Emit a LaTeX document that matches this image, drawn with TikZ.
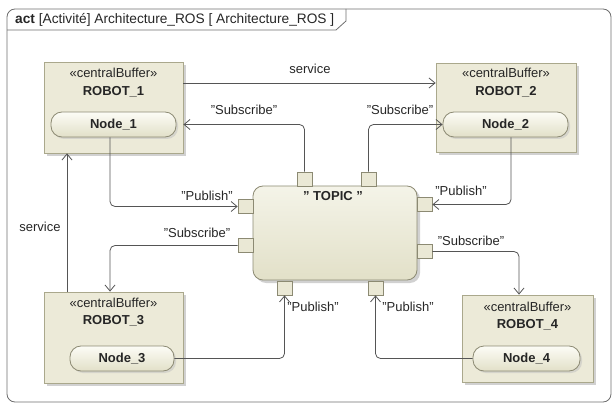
\documentclass[tikz,border=0pt]{standalone}
\usepackage{fontspec}
\setmainfont{Liberation Sans}
\usetikzlibrary{arrows.meta,shadows,calc}
\definecolor{boxfill}{RGB}{236,234,216}
\definecolor{boxline}{RGB}{170,168,140}
\definecolor{pilltop}{RGB}{252,252,246}
\definecolor{pillbot}{RGB}{226,224,200}
\definecolor{pillline}{RGB}{140,138,115}
\definecolor{connc}{RGB}{85,85,85}
\definecolor{framec}{RGB}{110,110,110}
\tikzset{
  txt/.style={font=\fontsize{13}{15}\selectfont, text=black!85},
  bold/.style={font=\fontsize{13}{15}\selectfont\bfseries},
  robotbox/.style={draw=boxline, fill=boxfill, line width=0.8pt, minimum width=139pt, minimum height=91pt, inner sep=0pt,
    drop shadow={shadow xshift=3pt, shadow yshift=-3pt, fill=black!30, opacity=0.6}},
  pillbox/.style={draw=pillline, line width=0.8pt, rounded corners=11pt, top color=pilltop, bottom color=pillbot, minimum height=25pt, inner sep=0pt,
    drop shadow={shadow xshift=2pt, shadow yshift=-2pt, fill=black!25, opacity=0.5}, txt, bold},
  topicbox/.style={draw=pillline, line width=0.8pt, rounded corners=10pt, top color=pilltop!70!pillbot, bottom color=pillbot, minimum width=164pt, minimum height=94pt, inner sep=0pt,
    drop shadow={shadow xshift=3pt, shadow yshift=-3pt, fill=black!30, opacity=0.6}},
  pinbox/.style={draw=pillline, line width=0.7pt, fill=boxfill!80!pillbot, minimum width=15pt, minimum height=14pt, inner sep=0pt},
  conn/.style={draw=connc, line width=0.8pt, rounded corners=5pt, -{Straight Barb[length=6pt,width=10pt]}},
  lbl/.style={txt, inner sep=0pt},
}
\begin{document}
\begin{tikzpicture}[x=1pt,y=-1pt]
\useasboundingbox (0,0) rectangle (613,406);
% frame
\draw[framec, line width=0.8pt, rounded corners=8pt] (7,9) rectangle (611,402);
\draw[framec, line width=0.8pt] (7,30) -- (336,30) -- (346,21) -- (346,9);
\node[txt, font=\fontsize{13.7}{15}\selectfont, anchor=west, inner sep=0pt] (title) at (15,20) {\textbf{act} [Activité] Architecture\_ROS [ Architecture\_ROS ]};

% robots
\node[robotbox] (r1) at (113.5,107.5) {};
\node[robotbox, minimum width=140pt, minimum height=89pt] (r2) at (506,107.5) {};
\node[robotbox] (r3) at (113.5,337.5) {};
\node[robotbox, minimum width=131pt, minimum height=87pt] (r4) at (527.5,338.5) {};

\node[lbl] (r1s) at (113.5,73) {«centralBuffer»};
\node[lbl, bold] (r1n) at (113.5,92) {ROBOT\_1};
\node[lbl] (r2s) at (506,73) {«centralBuffer»};
\node[lbl, bold] (r2n) at (506,92) {ROBOT\_2};
\node[lbl] (r3s) at (113.5,303) {«centralBuffer»};
\node[lbl, bold] (r3n) at (113.5,321) {ROBOT\_3};
\node[lbl] (r4s) at (527.5,307) {«centralBuffer»};
\node[lbl, bold] (r4n) at (527.5,325) {ROBOT\_4};

% pills
\node[pillbox, minimum width=125pt] (n1) at (113.5,124.5) {Node\_1};
\node[pillbox, minimum width=125pt] (n2) at (505.5,124.5) {Node\_2};
\node[pillbox, minimum width=104pt] (n3) at (122,358.5) {Node\_3};
\node[pillbox, minimum width=107pt] (n4) at (526.5,358.5) {Node\_4};

% topic
\node[topicbox] (topic) at (335,233) {};
\node[lbl, bold] (topict) at (333,196) {" TOPIC "};

% pins
\node[pinbox] (pT1) at (304.5,179) {};
\node[pinbox] (pT2) at (368.5,179) {};
\node[pinbox] (pL1) at (245.5,206.5) {};
\node[pinbox] (pL2) at (245.5,245.5) {};
\node[pinbox] (pR1) at (424.5,204.5) {};
\node[pinbox] (pR2) at (424.5,251.5) {};
\node[pinbox] (pB1) at (284.5,288) {};
\node[pinbox] (pB2) at (375.5,288) {};

% connectors
\draw[conn] ([yshift=24.5pt]r1.east) -- ([yshift=24.5pt]r1.east -| r2.west);
\draw[conn] (pT1.north) |- (r1.east |- n1.east);
\draw[conn] (pT2.north) |- (n2.west);
\draw[conn] ([xshift=-3.5pt]n1.south) |- (pL1.west);
\draw[conn] (pL2.west) -| ([xshift=-3.5pt]r3.north);
\draw[conn] ([xshift=-46.5pt]r3.north) -- ([xshift=-46.5pt]r1.south);
\draw[conn] (n3.east) -| (pB1.south);
\draw[conn] ([xshift=5.5pt]n2.south) |- (pR1.east);
\draw[conn] (pR2.east) -| ([xshift=-8.5pt]r4.north);
\draw[conn] (n4.west) -| (pB2.south);

% labels
\node[lbl] (l1) at (310,69) {service};
\node[lbl] (l2) at (244,110) {"Subscribe"};
\node[lbl] (l3) at (400,110) {"Subscribe"};
\node[lbl] (l4) at (207,196) {"Publish"};
\node[lbl] (l5) at (197,233) {"Subscribe"};
\node[lbl] (l6) at (40,227) {service};
\node[lbl] (l7) at (313,307) {"Publish"};
\node[lbl] (l8) at (461,191) {"Publish"};
\node[lbl] (l9) at (471,241) {"Subscribe"};
\node[lbl] (l10) at (408,307) {"Publish"};
\end{tikzpicture}
\end{document}
